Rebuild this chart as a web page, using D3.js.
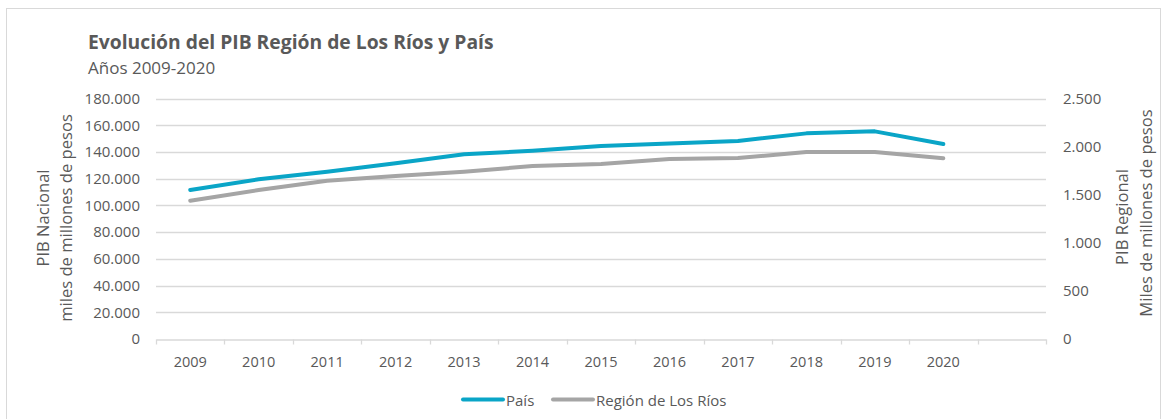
<!DOCTYPE html>
<html><head><meta charset="utf-8">
<script src="https://cdn.jsdelivr.net/npm/d3@7"></script>
<style>
html,body{margin:0;padding:0;background:#fff;}
svg{display:block;font-family:"Open Sans",sans-serif;}
</style></head>
<body><svg id="c" width="1167" height="419"></svg>
<script>
const categories = ["2009","2010","2011","2012","2013","2014","2015","2016","2017","2018","2019","2020",""];
const years = ["2009","2010","2011","2012","2013","2014","2015","2016","2017","2018","2019","2020"];
const pais = [111500,119500,125200,131500,138200,140900,144400,146400,148200,153900,155400,145900];
const region = [1437,1549,1645,1694,1739,1798,1819,1871,1881,1944,1944,1878];
const leftTicks = [0,20000,40000,60000,80000,100000,120000,140000,160000,180000];
const rightTicks = [0,500,1000,1500,2000,2500];

const svg = d3.select("#c");
const textColor = "#595959", gridColor = "#D9D9D9";
const blue = "#0AA5C7", gray = "#A5A5A5";
const L = 156, R = 1046, T = 98.5, B = 339;

svg.append("rect").attr("x",6.5).attr("y",8.5).attr("width",1154).attr("height",420)
  .attr("fill","#fff").attr("stroke","#D9D9D9");

const x = d3.scaleBand().domain(categories).range([L,R]).padding(0);
const yL = d3.scaleLinear().domain([0,180000]).range([B,T]);
const yR = d3.scaleLinear().domain([0,2500]).range([B,T]);
const fmt = d => d3.format(",")(d).replace(/,/g,".");

// gridlines
svg.append("g").selectAll("line").data(leftTicks.filter(d=>d>0)).join("line")
  .attr("x1",L).attr("x2",R).attr("y1",d=>Math.round(yL(d))+0.5).attr("y2",d=>Math.round(yL(d))+0.5)
  .attr("stroke",gridColor).attr("stroke-width",1.3);

// left axis labels
const ga = d3.axisLeft(yL).tickValues(leftTicks).tickFormat(fmt).tickSize(0).tickPadding(0);
const gl = svg.append("g").attr("transform",`translate(140,0)`).call(ga);
gl.select(".domain").remove();
gl.selectAll("text").attr("fill",textColor).attr("font-size",15).attr("font-family","Open Sans");

// right axis labels
const gr = svg.append("g").attr("transform",`translate(1063,0)`)
  .call(d3.axisRight(yR).tickValues(rightTicks).tickFormat(fmt).tickSize(0).tickPadding(0));
gr.select(".domain").remove();
gr.selectAll("text").attr("fill",textColor).attr("font-size",15).attr("font-family","Open Sans");

// x axis
const gx = svg.append("g").attr("transform",`translate(0,${Math.round(B)+0.5})`)
  .call(d3.axisBottom(x).tickSize(0).tickPadding(0).tickFormat(d=>d));
gx.select(".domain").attr("stroke",gridColor).attr("stroke-width",1.3);
gx.selectAll("text").attr("fill",textColor).attr("font-size",14.5).attr("font-family","Open Sans").attr("dy",null).attr("y",27);
const bounds = categories.map(c=>x(c)).concat([x(categories[categories.length-1])+x.bandwidth()]);
gx.selectAll("line.tk").data(bounds).join("line").attr("class","tk")
  .attr("x1",d=>Math.round(d)+0.5).attr("x2",d=>Math.round(d)+0.5).attr("y1",0).attr("y2",5)
  .attr("stroke",gridColor).attr("stroke-width",1.3);

// lines
const cx = d => x(d)+x.bandwidth()/2;
const lineL = d3.line().x((d,i)=>cx(years[i])).y(d=>yL(d));
const lineR = d3.line().x((d,i)=>cx(years[i])).y(d=>yR(d));
svg.append("path").datum(region).attr("d",lineR).attr("fill","none").attr("stroke",gray)
  .attr("stroke-width",4).attr("stroke-linecap","round").attr("stroke-linejoin","round");
svg.append("path").datum(pais).attr("d",lineL).attr("fill","none").attr("stroke",blue)
  .attr("stroke-width",4).attr("stroke-linecap","round").attr("stroke-linejoin","round");

// titles
svg.append("text").attr("x",88).attr("y",49).text("Evolución del PIB Región de Los Ríos y País")
  .attr("fill",textColor).attr("font-size",19.3).attr("font-weight","bold");
svg.append("text").attr("x",88).attr("y",74).text("Años 2009-2020")
  .attr("fill",textColor).attr("font-size",17);

// axis titles
const axisTitles = [
  {t:"PIB Nacional",x:42,y:218},
  {t:"miles de millones de pesos",x:65,y:218},
  {t:"PIB Regional",x:1121,y:217},
  {t:"Miles de millones de pesos",x:1145,y:213}
];
svg.append("g").selectAll("text").data(axisTitles).join("text")
  .attr("transform",d=>`translate(${d.x},${d.y}) rotate(-90)`)
  .attr("text-anchor","middle").attr("dominant-baseline","central").attr("fill",textColor).attr("font-size",16.6)
  .text(d=>d.t);

// legend
const legend = [{name:"País",color:blue,x:463},{name:"Región de Los Ríos",color:gray,x:553}];
const lg = svg.append("g").selectAll("g").data(legend).join("g").attr("transform",d=>`translate(${d.x},399.5)`);
lg.append("line").attr("x1",0).attr("x2",40).attr("stroke",d=>d.color).attr("stroke-width",4).attr("stroke-linecap","round");
lg.append("text").attr("x",43).attr("dominant-baseline","central").attr("fill",textColor).attr("font-size",15).text(d=>d.name);
</script></body></html>
